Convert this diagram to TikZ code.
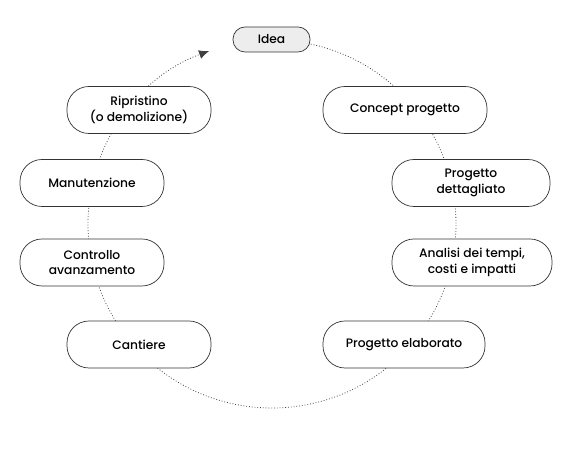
\documentclass[tikz,border=0pt]{standalone}
\usepackage{fontspec}
\setmainfont{Poppins Medium}
\usetikzlibrary{arrows.meta}
\begin{document}
\begin{tikzpicture}[x=1bp, y=1bp,
        phase/.style={draw=black!80, line width=0.7bp, fill=white, rounded corners=22bp,
            minimum height=47bp, align=center, font=\fontsize{12.3}{15.5}\selectfont},
        loop/.style={dotted, line width=0.8bp, draw=black!75}]
    \useasboundingbox (0,0) rectangle (574,449);
    \coordinate (c) at (272,225);
    % ciclo tratteggiato
    \draw[loop, -{Latex[length=10bp, width=9bp]}] ([shift={(90:184bp)}]c)
        arc[start angle=90, end angle=-250, radius=184bp] coordinate (tip);
    \node[phase, fill=black!7, minimum height=25bp, minimum width=77bp, rounded corners=12bp] (idea) at (271.5,409.5) {Idea};
    \node[phase, minimum width=164bp] (concept) at (405,339) {Concept progetto};
    \node[phase, minimum width=158bp] (dettagliato) at (471,266) {Progetto\\dettagliato};
    \node[phase, minimum width=160bp] (analisi) at (472,186.5) {Analisi dei tempi,\\costi e impatti};
    \node[phase, minimum width=162bp] (elaborato) at (404,104.5) {Progetto elaborato};
    \node[phase, minimum width=144bp] (cantiere) at (139,104.5) {Cantiere};
    \node[phase, minimum width=144bp] (controllo) at (92,186.5) {Controllo\\avanzamento};
    \node[phase, minimum width=144bp] (manutenzione) at (92,266) {Manutenzione};
    \node[phase, minimum width=144bp] (ripristino) at (139,339) {Ripristino\\(o demolizione)};
\end{tikzpicture}
\end{document}
